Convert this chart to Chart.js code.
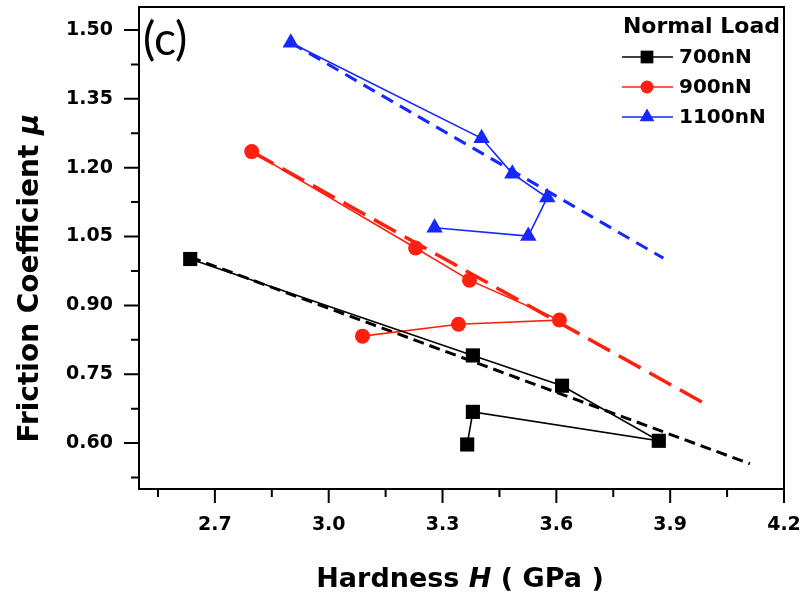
<!DOCTYPE html>
<html>
<head>
<meta charset="utf-8">
<title>Friction Coefficient vs Hardness</title>
<script src="https://cdn.jsdelivr.net/npm/chart.js@4.4.1/dist/chart.umd.min.js"></script>
<style>
  html, body { margin: 0; padding: 0; background: #fff; }
  #wrap { width: 805px; height: 594px; }
</style>
</head>
<body>
<div id="wrap"><canvas id="frictionChart"></canvas></div>
<script>
// measured points: hardness H (GPa) vs friction coefficient, per normal load
const hardness700 = [2.635, 3.38, 3.615, 3.87, 3.38, 3.365];
const friction700 = [1.001, 0.791, 0.725, 0.605, 0.668, 0.597];
const hardness900 = [2.797, 3.229, 3.371, 3.608, 3.342, 3.089];
const friction900 = [1.235, 1.025, 0.955, 0.868, 0.859, 0.833];
const hardness1100 = [2.90, 3.403, 3.484, 3.576, 3.526, 3.279];
const friction1100 = [1.472, 1.264, 1.187, 1.135, 1.051, 1.069];

// linear fit lines (start / end)
const fitHardness700 = [2.635, 4.11];
const fitFriction700 = [1.005, 0.555];
const fitHardness900 = [2.797, 4.0];
const fitFriction900 = [1.235, 0.682];
const fitHardness1100 = [2.90, 3.882];
const fitFriction1100 = [1.472, 1.003];

const xMajorTicks = [2.7, 3.0, 3.3, 3.6, 3.9, 4.2];
const xMinorTicks = [2.55, 2.85, 3.15, 3.45, 3.75, 4.05];
const yMajorTicks = [0.60, 0.75, 0.90, 1.05, 1.20, 1.35, 1.50];
const yMinorTicks = [0.525, 0.675, 0.825, 0.975, 1.125, 1.275, 1.425];

const loadLabels = ['700nN', '900nN', '1100nN'];
const loadColors = ['#000000', '#ff2010', '#1628ff'];
const loadMarkers = ['rect', 'circle', 'triangle'];
const markerSizes = [10, 7.5, 9.5];

function toPoints(xs, ys) {
    return xs.map((x, i) => ({ x: x, y: ys[i] }));
}

function seriesSet(i, xs, ys) {
    return {
        label: loadLabels[i],
        data: toPoints(xs, ys),
        borderColor: loadColors[i],
        backgroundColor: loadColors[i],
        borderWidth: 1.6,
        pointStyle: loadMarkers[i],
        pointRadius: markerSizes[i],
        pointBorderWidth: 0,
        pointHoverRadius: markerSizes[i],
        tension: 0,
        order: 1
    };
}

function fitSet(i, xs, ys, dash, width) {
    return {
        label: loadLabels[i] + ' fit',
        data: toPoints(xs, ys),
        borderColor: loadColors[i],
        borderWidth: width,
        borderDash: dash,
        pointRadius: 0,
        tension: 0,
        order: 2
    };
}

// draw a run of text pieces with their own fonts, centred on (cx, y)
function drawPieces(ctx, pieces, cx, y) {
    let total = 0;
    pieces.forEach(p => { ctx.font = p.font; p.w = ctx.measureText(p.text).width; total += p.w; });
    let x = cx - total / 2;
    pieces.forEach(p => { ctx.font = p.font; ctx.fillText(p.text, x, y); x += p.w; });
}

const framePlugin = {
    id: 'frame',
    afterDraw(chart) {
        const { ctx, chartArea: a, scales: { x, y } } = chart;
        ctx.save();
        ctx.strokeStyle = '#000';
        ctx.lineWidth = 2;
        ctx.strokeRect(a.left, a.top, a.right - a.left, a.bottom - a.top);

        // tick marks, outside the frame
        ctx.beginPath();
        xMajorTicks.forEach(v => { const p = x.getPixelForValue(v); ctx.moveTo(p, a.bottom); ctx.lineTo(p, a.bottom + 14); });
        xMinorTicks.forEach(v => { const p = x.getPixelForValue(v); ctx.moveTo(p, a.bottom); ctx.lineTo(p, a.bottom + 8); });
        yMajorTicks.forEach(v => { const p = y.getPixelForValue(v); ctx.moveTo(a.left, p); ctx.lineTo(a.left - 15, p); });
        yMinorTicks.forEach(v => { const p = y.getPixelForValue(v); ctx.moveTo(a.left, p); ctx.lineTo(a.left - 8, p); });
        ctx.stroke();

        ctx.fillStyle = '#000';
        ctx.textBaseline = 'alphabetic';

        // axis titles
        drawPieces(ctx, [
            { text: 'Hardness ', font: 'bold 27px "DejaVu Sans"' },
            { text: 'H', font: 'italic bold 27px "DejaVu Sans"' },
            { text: ' ( GPa )', font: 'bold 27px "DejaVu Sans"' }
        ], 460, 587);

        ctx.save();
        ctx.translate(38, 278);
        ctx.rotate(-Math.PI / 2);
        drawPieces(ctx, [
            { text: 'Friction Coefficient ', font: 'bold 28px "DejaVu Sans"' },
            { text: 'μ', font: 'italic bold 29px "DejaVu Sans"' }
        ], 0, 0);
        ctx.restore();

        // panel letter
        ctx.font = '46px Lato';
        ctx.textAlign = 'left';
        ctx.fillText('(c)', a.left + 4, 55);

        // legend
        ctx.font = 'bold 22px "DejaVu Sans"';
        ctx.textAlign = 'right';
        ctx.fillText('Normal Load', a.right - 4, 33);
        ctx.textAlign = 'left';
        ctx.textBaseline = 'middle';
        const rows = [57, 87, 117];
        loadLabels.forEach((lab, i) => {
            const ly = rows[i];
            ctx.strokeStyle = loadColors[i];
            ctx.fillStyle = loadColors[i];
            ctx.lineWidth = 1.6;
            ctx.beginPath();
            ctx.moveTo(622, ly);
            ctx.lineTo(673, ly);
            ctx.stroke();
            Chart.helpers.drawPoint(ctx, {
                pointStyle: loadMarkers[i],
                radius: markerSizes[i] - 1,
                borderWidth: 0,
                rotation: 0
            }, 647, ly);
            ctx.fillStyle = '#000';
            ctx.font = 'bold 20px "DejaVu Sans"';
            ctx.fillText(lab, 679, ly + 1);
        });
        ctx.restore();
    }
};

const ctxFriction = document.getElementById('frictionChart').getContext('2d');
const frictionChart = new Chart(ctxFriction, {
    type: 'line',
    data: {
        datasets: [
            fitSet(0, fitHardness700, fitFriction700, [11, 6], 3),
            fitSet(1, fitHardness900, fitFriction900, [25, 10], 3.5),
            fitSet(2, fitHardness1100, fitFriction1100, [13, 8], 3),
            seriesSet(0, hardness700, friction700),
            seriesSet(1, hardness900, friction900),
            seriesSet(2, hardness1100, friction1100)
        ]
    },
    options: {
        responsive: true,
        maintainAspectRatio: false,
        animation: false,
        layout: { autoPadding: false, padding: { top: 7, right: 21, left: 0, bottom: 0 } },
        plugins: {
            legend: { display: false },
            tooltip: { enabled: false }
        },
        scales: {
            x: {
                type: 'linear',
                min: 2.5,
                max: 4.2,
                afterBuildTicks: scale => { scale.ticks = xMajorTicks.map(v => ({ value: v })); },
                afterFit: scale => {
                    scale.height = 105;
                    scale.paddingLeft = 0;
                    scale.paddingRight = 0;
                },
                grid: { display: false, drawTicks: false },
                border: { display: false },
                ticks: {
                    autoSkip: false,
                    maxRotation: 0,
                    padding: 25,
                    color: '#000',
                    font: { family: 'DejaVu Sans', size: 19, weight: 'bold' },
                    callback: v => Number(v).toFixed(1)
                }
            },
            y: {
                type: 'linear',
                min: 0.5,
                max: 1.55,
                afterBuildTicks: scale => { scale.ticks = yMajorTicks.map(v => ({ value: v })); },
                afterFit: scale => {
                    scale.width = 139;
                    scale.paddingTop = 0;
                    scale.paddingBottom = 0;
                },
                grid: { display: false, drawTicks: false },
                border: { display: false },
                ticks: {
                    autoSkip: false,
                    padding: 26,
                    color: '#000',
                    font: { family: 'DejaVu Sans', size: 19, weight: 'bold' },
                    callback: v => Number(v).toFixed(2)
                }
            }
        }
    },
    plugins: [framePlugin]
});
</script>
</body>
</html>
